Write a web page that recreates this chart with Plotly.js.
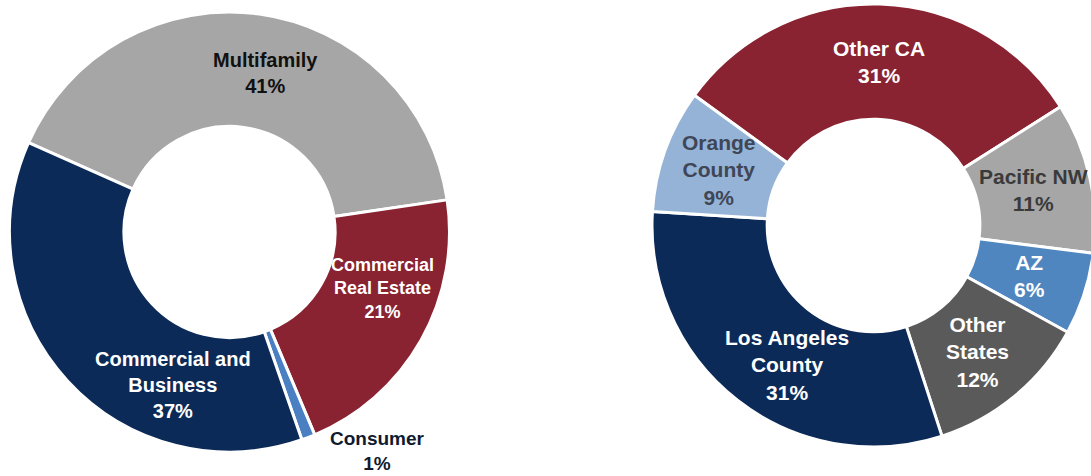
<!DOCTYPE html>
<html>
<head>
<meta charset="utf-8">
<script src="https://cdn.plot.ly/plotly-3.0.1.min.js"></script>
<style>
  html, body { margin: 0; padding: 0; overflow: hidden; background: #fff; }
  #wrap { width: 1091px; height: 476px; overflow: hidden; }
  #chart { width: 1100px; height: 476px; }
</style>
</head>
<body>
<div id="wrap"><div id="chart"></div></div>
<script>
// ---------------- DATA ----------------
// Loan portfolio by type (left donut)
const loanCategories = ['Multifamily', 'Commercial Real Estate', 'Consumer', 'Commercial and Business'];
const loanLabelText  = ['Multifamily', 'Commercial<br>Real Estate', 'Consumer', 'Commercial and<br>Business'];
const loanShares     = [41, 21, 1, 37];

// Portfolio by geography (right donut)
const geoCategories = ['Other CA', 'Pacific NW', 'AZ', 'Other States', 'Los Angeles County', 'Orange County'];
const geoLabelText  = ['Other CA', 'Pacific NW', 'AZ', 'Other<br>States', 'Los Angeles<br>County', 'Orange<br>County'];
const geoShares     = [31, 11, 6, 12, 31, 9];

// ---------------- STYLE ----------------
const loanColors     = ['#A6A6A6', '#8A2331', '#4A80C2', '#0B2A58'];
const loanTextColors = ['#111111', '#FFFFFF', '#0F1A2E', '#FFFFFF'];
const loanTextSizes  = [20, 18, 19, 20];
const geoColors      = ['#8A2331', '#A6A6A6', '#4F86C0', '#5A5A5A', '#0B2A58', '#95B3D7'];
const geoTextColors  = ['#FFFFFF', '#3A3A3A', '#FFFFFF', '#FFFFFF', '#FFFFFF', '#3F4656'];
const geoTextSizes   = [21, 21, 21, 21, 21, 21];
// small label placement tweaks (degrees along the ring), per category
const angleNudge = { 'Multifamily': 5, 'Commercial Real Estate': -9, 'Commercial and Business': -27, 'Los Angeles County': -6 };
const outsideLabels = { 'Consumer': true };

const W = 1100, H = 476;
const HOLE = 0.48;
const fontFam = '"Liberation Sans", Arial, sans-serif';

const leftDomain  = { x: [9.5 / W, 449.5 / W], y: [1 - 452 / H, 1 - 12 / H] };
const rightDomain = { x: [652 / W, 1095 / W], y: [1 - 447 / H, 1 - 4 / H] };

function makePie(labels, values, colors, domain, rotation) {
  return {
    type: 'pie',
    labels: labels,
    values: values,
    textinfo: 'none',
    hole: HOLE,
    sort: false,
    direction: 'clockwise',
    rotation: rotation,
    marker: { colors: colors, line: { color: '#FFFFFF', width: 3 } },
    domain: domain,
    hoverinfo: 'label+percent'
  };
}

// Build labels from the same values / rotation the pie uses (clockwise from 12 o'clock)
function makeLabels(labels, texts, values, domain, rotation, colors, sizes) {
  const cx = (domain.x[0] + domain.x[1]) / 2 * W;
  const cy = (1 - (domain.y[0] + domain.y[1]) / 2) * H;
  const r = Math.min((domain.x[1] - domain.x[0]) * W, (domain.y[1] - domain.y[0]) * H) / 2;
  const total = values.reduce((a, b) => a + b, 0);
  let cum = 0;
  const anns = [];
  values.forEach((v, i) => {
    const pct = Math.round(v / total * 100) + '%';
    let ang = rotation + (cum + v / 2) / total * 360 + (angleNudge[labels[i]] || 0);
    cum += v;
    const a = ang * Math.PI / 180;
    const outside = !!outsideLabels[labels[i]];
    const rr = outside ? r : r * (1 + HOLE) / 2;
    const px = cx + rr * Math.sin(a);
    const py = cy - rr * Math.cos(a);
    anns.push({
      xref: 'paper', yref: 'paper',
      x: px / W, y: 1 - py / H,
      xanchor: outside ? 'left' : 'center',
      yanchor: outside ? 'top' : 'middle',
      xshift: outside ? 20 : 0,
      yshift: outside ? 11 : 0,
      showarrow: false,
      align: 'center',
      text: '<b>' + texts[i] + '<br>' + pct + '</b>',
      font: { family: fontFam, size: sizes[i], color: colors[i] }
    });
  });
  return anns;
}

const leftRot = -66, rightRot = -54;

const data = [
  makePie(loanCategories, loanShares, loanColors, leftDomain, leftRot),
  makePie(geoCategories, geoShares, geoColors, rightDomain, rightRot)
];

const annotations = []
  .concat(makeLabels(loanCategories, loanLabelText, loanShares, leftDomain, leftRot, loanTextColors, loanTextSizes))
  .concat(makeLabels(geoCategories, geoLabelText, geoShares, rightDomain, rightRot, geoTextColors, geoTextSizes));

Plotly.newPlot('chart', data, {
  width: W,
  height: H,
  margin: { l: 0, r: 0, t: 0, b: 0 },
  paper_bgcolor: '#FFFFFF',
  showlegend: false,
  annotations: annotations
}, { displayModeBar: false, staticPlot: true });
</script>
</body>
</html>
